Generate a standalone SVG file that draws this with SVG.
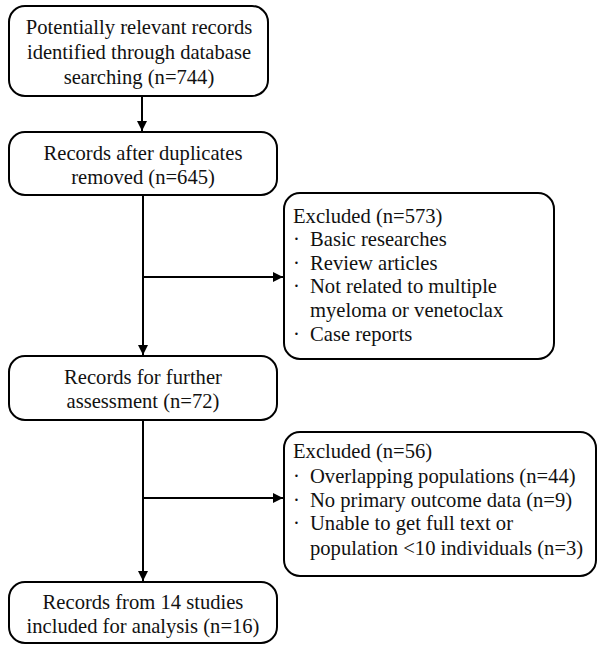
<svg xmlns="http://www.w3.org/2000/svg" width="603" height="654" viewBox="0 0 603 654">
<style>
.box{fill:#fff;stroke:#000;stroke-width:2}
text{font-family:'Liberation Serif','Times New Roman','DejaVu Serif',serif;font-size:20.6px;fill:#111}
.c{text-anchor:middle}
.ln{stroke:#000;stroke-width:2;fill:none}
</style>
<defs>
<marker id="ah" viewBox="0 0 10 10" refX="10" refY="5" markerWidth="10" markerHeight="10" markerUnits="userSpaceOnUse" orient="auto">
<path d="M0,0 L10,5 L0,10 z" fill="#000"/>
</marker>
</defs>
<rect width="603" height="654" fill="#fff"/>
<g id="connectors">
<line class="ln" x1="142" y1="96" x2="142" y2="131" marker-end="url(#ah)"/>
<line class="ln" x1="143" y1="195" x2="143" y2="355" marker-end="url(#ah)"/>
<line class="ln" x1="143" y1="277" x2="283" y2="277" marker-end="url(#ah)"/>
<line class="ln" x1="143" y1="420" x2="143" y2="581" marker-end="url(#ah)"/>
<line class="ln" x1="143" y1="498" x2="283" y2="498" marker-end="url(#ah)"/>
</g>
<g id="n1">
<rect class="box" x="9" y="6" width="259" height="90" rx="16"/>
<text class="c" x="139" y="34">Potentially relevant records</text>
<text class="c" x="139" y="59">identified through database</text>
<text class="c" x="139" y="84">searching (n=744)</text>
</g>
<g id="n2">
<rect class="box" x="9" y="132" width="268" height="63" rx="16"/>
<text class="c" x="143" y="160">Records after duplicates</text>
<text class="c" x="143" y="184">removed (n=645)</text>
</g>
<g id="n3">
<rect class="box" x="284" y="193" width="270" height="166" rx="16"/>
<text x="293" y="223">Excluded (n=573)</text>
<text x="293" y="246">·</text><text x="310" y="246">Basic researches</text>
<text x="293" y="270">·</text><text x="310" y="270">Review articles</text>
<text x="293" y="293">·</text><text x="310" y="293">Not related to multiple</text>
<text x="310" y="317">myeloma or venetoclax</text>
<text x="293" y="341">·</text><text x="310" y="341">Case reports</text>
</g>
<g id="n4">
<rect class="box" x="9" y="356" width="268" height="64" rx="16"/>
<text class="c" x="143" y="384">Records for further</text>
<text class="c" x="143" y="408">assessment (n=72)</text>
</g>
<g id="n5">
<rect class="box" x="284" y="432" width="312" height="144" rx="16"/>
<text x="293" y="458">Excluded (n=56)</text>
<text x="293" y="483">·</text><text x="310" y="483">Overlapping populations (n=44)</text>
<text x="293" y="507">·</text><text x="310" y="507">No primary outcome data (n=9)</text>
<text x="293" y="530">·</text><text x="310" y="530">Unable to get full text or</text>
<text x="310" y="555">population &lt;10 individuals (n=3)</text>
</g>
<g id="n6">
<rect class="box" x="9" y="582" width="268" height="61" rx="16"/>
<text class="c" x="143" y="609">Records from 14 studies</text>
<text class="c" x="143" y="633">included for analysis (n=16)</text>
</g>
</svg>
